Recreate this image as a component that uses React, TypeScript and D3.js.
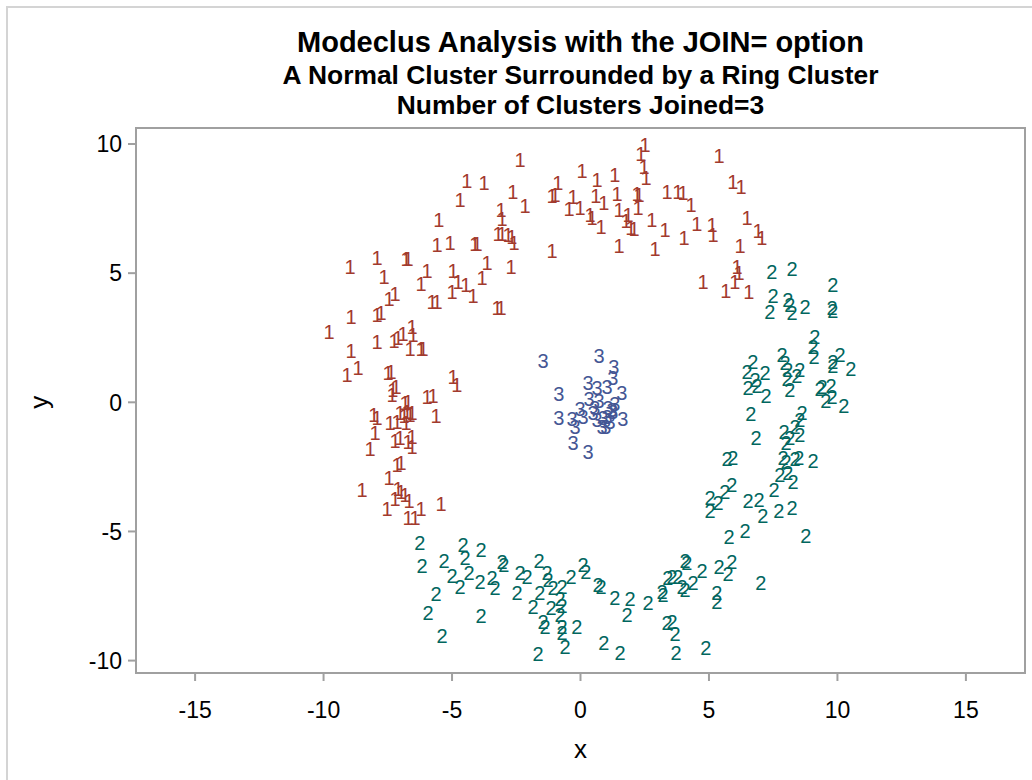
import React from "react";
import * as d3 from "d3";

// cluster 1: upper/left part of the ring
const cluster1: [number, number][] = [
  [-2.35, 9.39], [2.51, 9.97], [2.35, 9.62], [2.47, 9.12], [2.55, 8.69], [-2.63, 8.15],
  [-2.16, 7.61], [-0.88, 8.5], [-1.11, 8.0], [-0.99, 8.04], [0.06, 8.97], [0.64, 8.62],
  [1.34, 8.81], [-0.29, 7.97], [0.6, 8.01], [1.42, 8.09], [0.91, 7.72], [2.2, 8.07],
  [2.28, 8.03], [3.37, 8.15], [3.79, 8.15], [3.99, 8.11], [4.3, 7.65], [-0.45, 7.49],
  [-0.02, 7.53], [0.37, 7.26], [0.45, 7.14], [0.8, 6.79], [1.5, 7.45], [1.85, 7.26],
  [1.77, 7.03], [2.24, 7.53], [1.96, 6.76], [2.08, 6.72], [2.78, 7.07], [3.29, 6.69],
  [4.03, 6.37], [4.53, 6.91], [-1.11, 5.86], [1.5, 6.06], [2.9, 5.94], [-2.7, 5.24],
  [-3.09, 7.45], [-3.05, 7.1], [-3.21, 6.52], [-3.05, 6.52], [-2.82, 6.48], [-2.67, 6.41],
  [-2.59, 6.17], [-4.42, 8.58], [-3.75, 8.5], [-4.69, 7.84], [-5.51, 7.07], [-5.58, 6.1],
  [-5.08, 6.17], [-4.11, 6.14], [-4.03, 6.14], [-8.97, 5.24], [-7.92, 5.59], [-6.79, 5.55],
  [-6.71, 5.55], [-7.65, 4.86], [-5.97, 5.09], [-6.21, 4.59], [-4.96, 5.09], [-4.77, 4.66],
  [-5.0, 4.28], [-4.46, 4.55], [-4.18, 4.12], [-3.83, 4.82], [-3.64, 5.4], [-7.45, 4.0],
  [-7.22, 4.2], [-5.78, 3.89], [-5.58, 3.89], [-3.25, 3.66], [-3.09, 3.66], [-8.93, 3.31],
  [-7.92, 3.38], [-7.76, 3.46], [-9.79, 2.72], [-8.93, 1.99], [-7.92, 2.34], [-7.26, 2.37],
  [-7.1, 2.49], [-6.91, 2.65], [-6.56, 2.92], [-6.52, 2.61], [-6.63, 2.07], [-6.21, 2.07],
  [-6.13, 2.07], [-9.09, 1.06], [-8.66, 1.33], [-7.49, 1.14], [-7.37, 1.17], [-4.96, 0.98],
  [-4.81, 0.67], [-7.3, 0.48], [-7.18, 0.59], [-7.33, 0.28], [-6.83, -0.03], [-6.71, 0.01],
  [-6.75, -0.38], [-5.97, 0.21], [-5.74, 0.24], [-8.04, -0.49], [-7.92, -0.61], [-7.41, -0.8],
  [-7.14, -0.76], [-7.02, -0.41], [-6.87, -0.53], [-6.63, -0.49], [-6.56, -0.41], [-6.79, -0.8],
  [-5.62, -0.53], [-8.0, -1.19], [-8.19, -1.81], [-7.22, -1.5], [-7.02, -1.38], [-6.71, -1.54],
  [-6.56, -1.34], [-6.56, -1.73], [-7.14, -2.43], [-6.98, -2.35], [-7.45, -2.93], [-8.5, -3.4],
  [-7.1, -3.35], [-6.98, -3.46], [-7.22, -3.73], [-6.83, -3.58], [-6.67, -3.81], [-7.53, -4.13],
  [-6.21, -4.13], [-5.43, -3.94], [-6.71, -4.48], [-6.44, -4.48], [5.39, 9.55], [5.93, 8.53],
  [6.25, 8.34], [5.12, 6.86], [5.16, 6.48], [6.48, 7.14], [6.91, 6.64], [7.06, 6.37],
  [6.21, 6.06], [6.09, 5.24], [6.17, 5.01], [4.77, 4.66], [5.66, 4.31], [6.01, 4.66],
  [6.55, 4.28],
];

// cluster 2: right/lower part of the ring
const cluster2: [number, number][] = [
  [7.45, 5.05], [8.23, 5.17], [7.49, 4.12], [8.07, 3.97], [8.15, 3.77], [8.74, 3.69],
  [7.37, 3.5], [8.23, 3.46], [9.82, 4.54], [9.79, 3.65], [9.82, 3.54], [9.12, 2.53],
  [9.05, 2.14], [9.09, 1.76], [7.84, 1.83], [7.96, 1.52], [8.07, 1.25], [8.54, 1.25],
  [8.42, 1.02], [8.04, 0.9], [6.71, 1.56], [6.48, 1.17], [6.79, 0.86], [7.18, 1.14],
  [6.52, 0.55], [6.87, 0.63], [7.22, 0.24], [8.15, 0.48], [9.82, 1.56], [9.82, 1.41],
  [10.1, 1.83], [10.52, 1.29], [9.4, 0.59], [9.32, 0.52], [9.75, 0.63], [9.55, 0.05],
  [9.79, 0.21], [10.25, -0.14], [6.63, -0.45], [8.62, -0.41], [8.54, -0.69], [8.35, -0.96],
  [8.54, -1.27], [7.92, -1.15], [8.15, -1.38], [8.0, -1.58], [6.83, -1.38], [5.7, -2.17],
  [5.93, -2.13], [7.88, -2.13], [8.0, -2.32], [8.35, -2.17], [8.5, -2.13], [9.05, -2.28],
  [7.76, -2.82], [8.07, -2.74], [8.27, -3.09], [7.53, -3.4], [5.89, -3.21], [5.62, -3.48],
  [5.04, -3.71], [5.35, -3.9], [6.52, -3.81], [6.95, -3.77], [5.04, -4.21], [7.1, -4.41],
  [7.72, -4.21], [8.23, -4.09], [5.78, -5.21], [6.4, -4.97], [8.77, -5.17], [4.07, -6.14],
  [4.73, -6.52], [5.39, -6.37], [5.89, -6.17], [5.74, -6.64], [4.38, -7.0], [3.95, -7.16],
  [4.07, -7.27], [7.02, -7.0], [5.31, -7.39], [5.31, -7.74], [4.88, -9.51], [-3.05, -6.19],
  [-2.98, -6.31], [-1.61, -6.15], [-2.35, -6.62], [-2.08, -6.77], [-1.3, -6.62], [-1.26, -6.89],
  [-2.47, -7.39], [-1.58, -7.39], [-1.07, -7.2], [-0.72, -7.16], [-0.37, -6.77], [0.1, -6.31],
  [0.21, -6.58], [-1.85, -7.9], [-1.15, -7.97], [-0.8, -7.59], [-0.72, -7.86], [-0.8, -8.24],
  [-1.46, -8.51], [-1.38, -8.71], [-0.72, -8.71], [-0.72, -8.94], [-0.14, -8.71], [-0.6, -9.48],
  [-1.65, -9.72], [0.68, -7.08], [0.8, -7.16], [1.34, -7.55], [1.93, -7.62], [1.81, -8.24],
  [2.63, -7.77], [3.17, -7.35], [3.21, -7.47], [3.4, -6.81], [3.56, -6.77], [3.79, -6.77],
  [4.14, -6.23], [3.37, -8.55], [3.56, -8.48], [3.68, -8.98], [3.72, -9.71], [0.91, -9.33],
  [1.54, -9.68], [-6.25, -5.44], [-6.17, -6.33], [-4.57, -5.52], [-3.87, -5.72], [-5.31, -6.15],
  [-4.49, -6.03], [-5.0, -6.73], [-4.34, -6.62], [-4.69, -7.16], [-3.91, -6.93], [-3.44, -6.81],
  [-3.33, -7.2], [-5.62, -7.43], [-5.93, -8.16], [-3.87, -8.27], [-5.39, -9.03],
];

// cluster 3: the normal cluster in the middle
const cluster3: [number, number][] = [
  [-1.46, 1.6], [0.72, 1.79], [1.3, 1.37], [1.26, 0.94], [-0.84, 0.32], [0.29, 0.75],
  [0.64, 0.55], [1.03, 0.59], [1.61, 0.36], [0.33, 0.13], [0.72, 0.05], [1.34, -0.07],
  [1.07, -0.22], [1.23, -0.3], [-0.02, -0.26], [-0.84, -0.61], [-0.33, -0.65], [0.1, -0.57],
  [0.49, -0.41], [0.64, -0.69], [0.88, -0.61], [1.03, -0.57], [1.15, -0.76], [0.84, -0.96],
  [0.99, -0.96], [1.65, -0.65], [-0.21, -0.96], [-0.29, -1.58], [0.29, -1.93], [1.26, -0.38],
  [0.56, -0.22],
];

const xTicks = [-15, -10, -5, 0, 5, 10, 15];
const yTicks = [-10, -5, 0, 5, 10];
const titles = [
  "Modeclus Analysis with the JOIN= option",
  "A Normal Cluster Surrounded by a Ring Cluster",
  "Number of Clusters Joined=3",
];

const groups = [
  { label: "1", pts: cluster1, color: "#A23A2E" },
  { label: "2", pts: cluster2, color: "#01665E" },
  { label: "3", pts: cluster3, color: "#445694" },
];

const W = 1032;
const H = 780;
const left = 136;
const right = 1025;
const top = 128;
const bottom = 673;
const font = "'Liberation Sans', Arial, sans-serif";
const axisColor = "#a0a0a0";

export default function App() {
  const x = d3.scaleLinear().domain([-17.3, 17.3]).range([left, right]);
  const y = d3.scaleLinear().domain([-10.48, 10.62]).range([bottom, top]);
  const cx = (left + right) / 2;

  return (
    <svg
      width={W}
      height={H}
      style={{ position: "absolute", left: 0, top: 0, background: "#fff" }}
      fontFamily={font}
    >
      {/* outer border, cut off at right/bottom */}
      <path d={`M7,${H} V7 H${W}`} fill="none" stroke="#d4d4d4" strokeWidth={2} />

      <text x={cx} y={52} textAnchor="middle" fontWeight="bold" fontSize={29}>
        {titles[0]}
      </text>
      <text x={cx} y={84} textAnchor="middle" fontWeight="bold" fontSize={26.4}>
        {titles[1]}
      </text>
      <text x={cx} y={114} textAnchor="middle" fontWeight="bold" fontSize={26.4}>
        {titles[2]}
      </text>

      {groups.map((g) => (
        <g key={g.label} fill={g.color} fontSize={20} textAnchor="middle">
          {g.pts.map(([px, py], i) => (
            <text key={i} x={x(px)} y={y(py)} dy="0.36em">
              {g.label}
            </text>
          ))}
        </g>
      ))}

      <rect
        x={left}
        y={top}
        width={right - left}
        height={bottom - top}
        fill="none"
        stroke={axisColor}
        strokeWidth={2}
      />

      {xTicks.map((t) => (
        <g key={t}>
          <line x1={x(t)} x2={x(t)} y1={bottom} y2={bottom + 8} stroke={axisColor} strokeWidth={2} />
          <text x={x(t)} y={718} textAnchor="middle" fontSize={23}>
            {t}
          </text>
        </g>
      ))}
      {yTicks.map((t) => (
        <g key={t}>
          <line x1={left - 8} x2={left} y1={y(t)} y2={y(t)} stroke={axisColor} strokeWidth={2} />
          <text x={left - 14} y={y(t)} dy="0.36em" textAnchor="end" fontSize={23}>
            {t}
          </text>
        </g>
      ))}

      <text x={cx} y={758} textAnchor="middle" fontSize={26}>
        x
      </text>
      <text
        transform={`translate(48,${y(0)}) rotate(-90)`}
        textAnchor="middle"
        fontSize={26}
      >
        y
      </text>
    </svg>
  );
}
